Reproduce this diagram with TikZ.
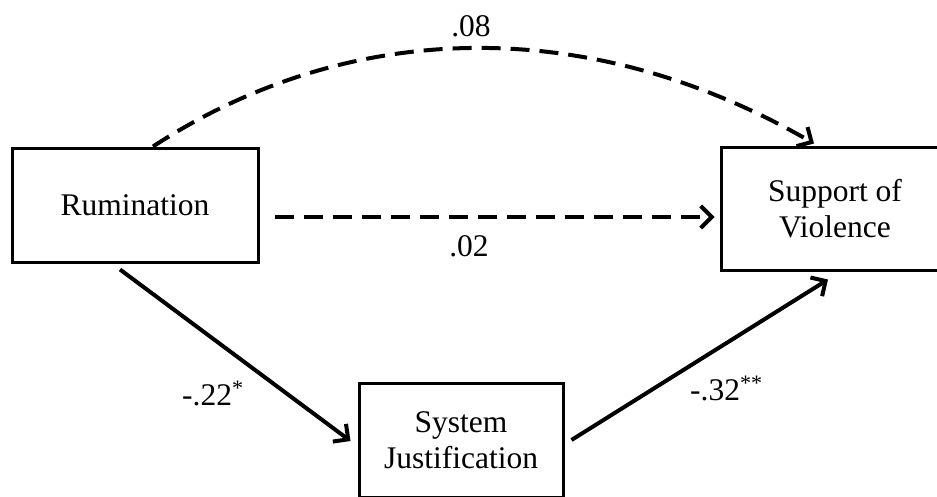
\documentclass[tikz,border=0pt]{standalone}
\usepackage{fontspec}
\setmainfont{Liberation Serif}
\usetikzlibrary{arrows.meta}
\begin{document}
\begin{tikzpicture}[x=1pt,y=-1pt,
  every node/.style={font=\fontsize{31.5}{36}\selectfont, inner sep=0pt},
  varbox/.style={draw, line width=3pt, align=center},
  pathline/.style={line width=4pt, -{Straight Barb[length=11pt,width=22pt]}},
  nullpath/.style={pathline, dash pattern=on 19pt off 10pt},
  coef/.style={anchor=base}]
\useasboundingbox (0,0) rectangle (937,496);
\clip (0,0) rectangle (937,496);

% variables
\node[varbox, minimum width=246pt, minimum height=114pt] (rum) at (135,205) {Rumination};
\node[varbox, minimum width=228pt, minimum height=123pt] (sov) at (835,208.5) {Support of\\Violence};
\node[varbox, minimum width=204pt, minimum height=114pt] (sj) at (461,440) {System\\Justification};

% end points of the paths
\coordinate (c0) at ([xshift=18pt]rum.north);
\coordinate (c1) at ([xshift=-21pt,yshift=2pt]sov.north);
\coordinate (d0) at ([xshift=15pt,yshift=-12pt]rum.east);
\coordinate (d1) at ([xshift=-5pt,yshift=-8.5pt]sov.west);
\coordinate (a0) at ([xshift=-15pt,yshift=-6pt]rum.south);
\coordinate (a1) at ([xshift=-7pt,yshift=-1pt]sj.west);
\coordinate (b0) at ([xshift=7pt]sj.east);
\coordinate (b1) at ([xshift=-7pt,yshift=-8pt]sov.south);

% direct effects
\draw[nullpath] (c0) .. controls (350,18) and (590,14) .. (c1);
\draw[nullpath] (d0) -- (d1);

% indirect path
\draw[pathline] (a0) -- (a1);
\draw[pathline] (b0) -- (b1);

% coefficients
\node[coef] (k08) at (471,36) {.08};
\node[coef] (k02) at (469,256) {.02};
\node[anchor=base west] (k22) at (182,405) {-.22\textsuperscript{*}};
\node[anchor=base west] (k32) at (690,400) {-.32\textsuperscript{**}};
\end{tikzpicture}
\end{document}
